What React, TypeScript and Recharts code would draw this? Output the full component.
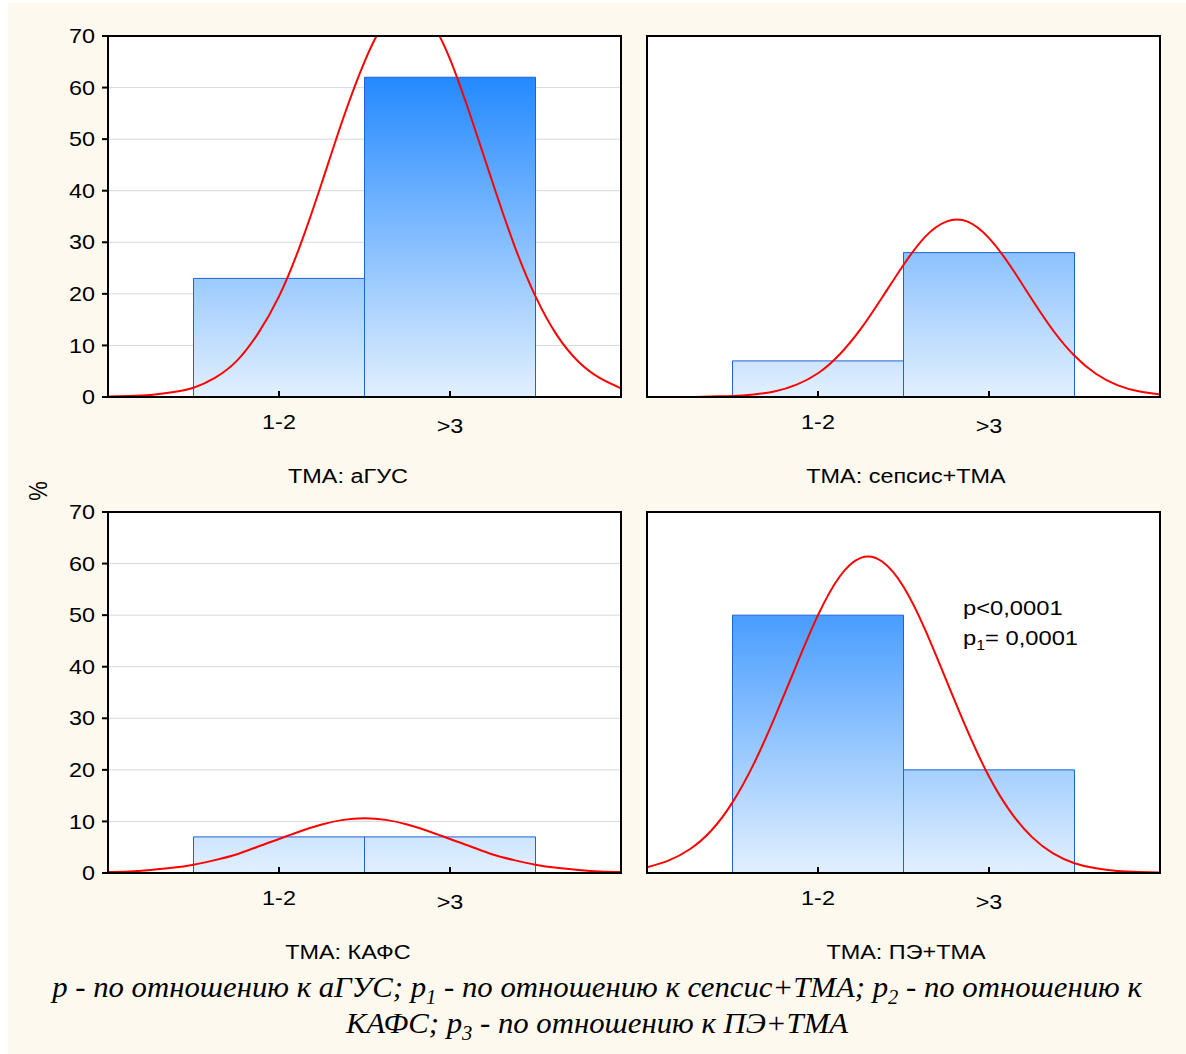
import React from "react";
import { ComposedChart, Bar, Line, XAxis, YAxis, CartesianGrid } from "recharts";

// categories of the histogram
const categories = ["1-2", ">3"];

// bar heights, %
const aGUS = [23, 62];
const sepsis = [7, 28];
const kafs = [7, 7];
const pe = [50, 20];

// x positions of the fitted curve points (bin units, bins centred at 1 and 2)
const curveX = [0, 0.125, 0.25, 0.375, 0.5, 0.625, 0.75, 0.875, 1, 1.125, 1.25, 1.375, 1.5, 1.625, 1.75, 1.875, 2, 2.125, 2.25, 2.375, 2.5, 2.625, 2.75, 2.875, 3];

// red curve values
const aGUSCurve = [0.1, 0.2, 0.4, 0.9, 1.8, 3.7, 6.9, 12.2, 19.5, 29.5, 41.5, 54, 65, 73, 76, 73.5, 65.5, 54, 41.5, 29.5, 19.5, 12, 6.9, 3.7, 1.7];
const sepsisCurve = [0, 0, 0, 0.1, 0.2, 0.5, 1.1, 2.4, 4.6, 8.2, 13.2, 19.3, 25.6, 31, 34, 34, 30.8, 25.4, 19, 12.9, 8, 4.5, 2.3, 1.1, 0.5];
const kafsCurve = [0.2, 0.3, 0.6, 1, 1.6, 2.5, 3.6, 5.1, 6.6, 8.1, 9.4, 10.3, 10.6, 10.3, 9.4, 8.1, 6.6, 5.1, 3.6, 2.5, 1.6, 1, 0.6, 0.3, 0.2];
const peCurve = [1.1, 2.4, 4.6, 8.2, 13.7, 21.2, 30.4, 40.4, 50, 57.4, 61.1, 60.4, 55.5, 47.3, 37.4, 27.5, 18.7, 11.9, 7, 3.8, 1.9, 0.9, 0.4, 0.2, 0.1];

const yTicks = [0, 10, 20, 30, 40, 50, 60, 70];
const curveTicks = [1, 2];

const titles = ["ТМА: аГУС", "ТМА: сепсис+ТМА", "ТМА: КАФС", "ТМА: ПЭ+ТМА"];

const FONT = '"Liberation Sans", Arial, sans-serif';
const SERIF = '"Liberation Serif", "Times New Roman", serif';
const SX = 1.17; // the original is stretched horizontally
const FS = 20;
const CREAM = "#fdf9ee";

const PLOT_W = 513;
const PLOT_H = 361;
const M = { top: 10, right: 10, bottom: 20, left: 10 };
const Y_W = 40;
const X_H = 30;

const axisLine = { stroke: "#000", strokeWidth: 2, strokeLinecap: "square" as const };
const tickLine = { stroke: "#000", strokeWidth: 2 };

const XTick = (props: any) => {
  const { x, y, payload } = props;
  const dy = payload.value === ">3" ? 36 : 32.5;
  return (
    <text transform={`translate(${x},${y}) scale(${SX},1)`} y={dy} textAnchor="middle" fontSize={FS} fontFamily={FONT} fill="#000">
      {payload.value}
    </text>
  );
};

const YTick = (props: any) => {
  const { x, y, payload } = props;
  return (
    <text transform={`translate(${x},${y}) scale(${SX},1)`} y={7.2} textAnchor="end" fontSize={FS} fontFamily={FONT} fill="#000">
      {payload.value}
    </text>
  );
};

type PanelProps = {
  id: string;
  bars: number[];
  curve: number[];
  plotLeft: number;
  plotTop: number;
  yLabels: boolean;
};

const Panel = ({ id, bars, curve, plotLeft, plotTop, yLabels }: PanelProps) => {
  const data = categories.map((c, i) => ({ cat: c, v: bars[i] }));
  const curveData = curveX.map((x, i) => ({ x, y: curve[i] }));
  const leftW = yLabels ? Y_W : 0;
  const width = M.left + leftW + PLOT_W + M.right;
  const height = M.top + PLOT_H + X_H + M.bottom;
  const halfBin = PLOT_W / 6;

  return (
    <div style={{ position: "absolute", left: plotLeft - M.left - leftW, top: plotTop - M.top }}>
      <ComposedChart width={width} height={height} data={data} margin={M} barCategoryGap={0} barGap={0}>
        <defs>
          <linearGradient id={`grad-${id}`} gradientUnits="userSpaceOnUse" x1={0} y1={M.top} x2={0} y2={M.top + PLOT_H}>
            <stop offset="0" stopColor="#0b7cff" />
            <stop offset="1" stopColor="#e2f0fe" />
          </linearGradient>
        </defs>
        <CartesianGrid xAxisId="bottom" yAxisId="left" vertical={false} stroke="#d9d9d9" fill="#fff" />
        <XAxis
          xAxisId="bottom"
          dataKey="cat"
          type="category"
          padding={{ left: halfBin, right: halfBin }}
          height={X_H}
          interval={0}
          tickSize={-6}
          tickMargin={6}
          axisLine={axisLine}
          tickLine={tickLine}
          tick={(p: any) => <XTick {...p} />}
        />
        <XAxis
          xAxisId="top"
          orientation="top"
          mirror
          type="number"
          dataKey="x"
          domain={[0, 3]}
          ticks={curveTicks}
          allowDataOverflow
          interval={0}
          tickSize={6}
          axisLine={axisLine}
          tickLine={tickLine}
          tick={false}
        />
        <YAxis
          yAxisId="left"
          domain={[0, 70]}
          ticks={yTicks}
          allowDataOverflow
          interval={0}
          width={Y_W}
          mirror={!yLabels}
          tickSize={6}
          tickMargin={7}
          axisLine={axisLine}
          tickLine={tickLine}
          tick={yLabels ? (p: any) => <YTick {...p} /> : false}
        />
        <YAxis
          yAxisId="right"
          orientation="right"
          mirror
          domain={[0, 70]}
          ticks={yTicks}
          allowDataOverflow
          interval={0}
          tickSize={6}
          axisLine={axisLine}
          tickLine={tickLine}
          tick={false}
        />
        <Bar
          xAxisId="bottom"
          yAxisId="left"
          dataKey="v"
          fill={`url(#grad-${id})`}
          stroke="#1f62d6"
          strokeWidth={1}
          isAnimationActive={false}
        />
        <Line
          xAxisId="top"
          yAxisId="left"
          data={curveData}
          dataKey="y"
          type="natural"
          stroke="#ff0000"
          strokeWidth={2}
          dot={false}
          activeDot={false}
          isAnimationActive={false}
        />
      </ComposedChart>
    </div>
  );
};

const Title = ({ text, cx, cy }: { text: string; cx: number; cy: number }) => (
  <div
    style={{
      position: "absolute",
      left: cx - 200,
      width: 400,
      top: cy - FS / 2,
      textAlign: "center",
      fontFamily: FONT,
      fontSize: FS,
      lineHeight: `${FS}px`,
      color: "#000",
      transform: `scaleX(${SX})`,
      whiteSpace: "nowrap",
    }}
  >
    {text}
  </div>
);

const Sub = ({ children, size }: { children: React.ReactNode; size: number }) => (
  <span style={{ fontSize: size, position: "relative", top: size * 0.35 }}>{children}</span>
);

const captionStyle: React.CSSProperties = {
  position: "absolute",
  left: 0,
  width: 1194,
  textAlign: "center",
  fontFamily: SERIF,
  fontStyle: "italic",
  fontSize: 30,
  lineHeight: "30px",
  whiteSpace: "nowrap",
  transform: "scaleX(1.025)",
};

export default function App() {
  return (
    <div style={{ position: "absolute", left: 0, top: 0, width: 1186, height: 1054, background: "#fff", overflow: "hidden" }}>
      <div style={{ position: "absolute", left: 8, top: 3, right: 0, bottom: 0, background: CREAM }} />

      <Panel id="a" bars={aGUS} curve={aGUSCurve} plotLeft={108} plotTop={36} yLabels />
      <Panel id="b" bars={sepsis} curve={sepsisCurve} plotLeft={647} plotTop={36} yLabels={false} />
      <Panel id="c" bars={kafs} curve={kafsCurve} plotLeft={108} plotTop={512} yLabels />
      <Panel id="d" bars={pe} curve={peCurve} plotLeft={647} plotTop={512} yLabels={false} />

      <Title text={titles[0]} cx={348} cy={476} />
      <Title text={titles[1]} cx={906} cy={476} />
      <Title text={titles[2]} cx={348} cy={952} />
      <Title text={titles[3]} cx={906} cy={952} />

      <div
        style={{
          position: "absolute",
          left: 39 - 20,
          top: 491 - 11,
          width: 40,
          textAlign: "center",
          fontFamily: FONT,
          fontSize: 22,
          lineHeight: "22px",
          transform: "rotate(-90deg) scaleY(1.15)",
        }}
      >
        %
      </div>

      <div
        style={{
          position: "absolute",
          left: 963,
          top: 597,
          fontFamily: FONT,
          fontSize: 21,
          lineHeight: "21px",
          transform: "scaleX(1.13)",
          transformOrigin: "left center",
          whiteSpace: "nowrap",
        }}
      >
        <div>p&lt;0,0001</div>
        <div style={{ marginTop: 9 }}>
          p<Sub size={14}>1</Sub>= 0,0001
        </div>
      </div>

      <div style={{ ...captionStyle, top: 972 }}>
        p - по отношению к аГУС; p<Sub size={20}>1</Sub> - по отношению к сепсис+ТМА; p<Sub size={20}>2</Sub> - по отношению к
      </div>
      <div style={{ ...captionStyle, top: 1008 }}>
        КАФС; p<Sub size={20}>3</Sub> - по отношению к ПЭ+ТМА
      </div>
    </div>
  );
}
